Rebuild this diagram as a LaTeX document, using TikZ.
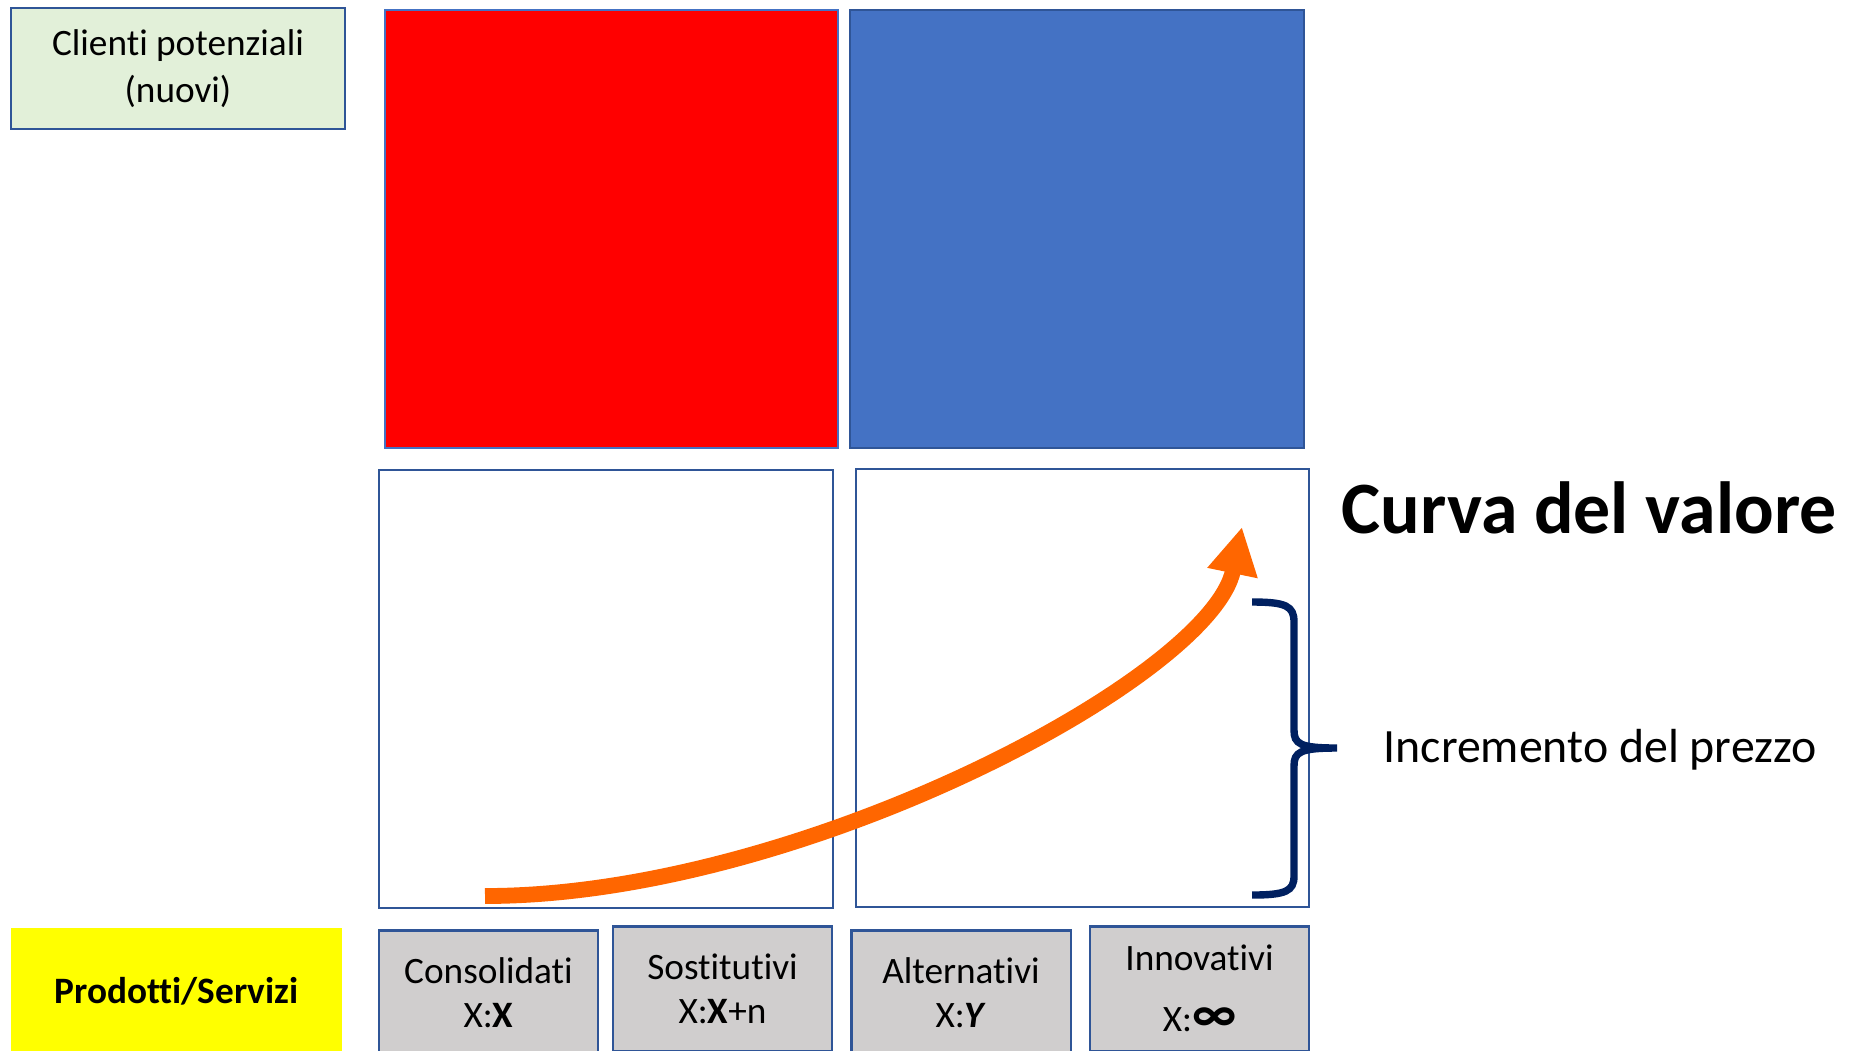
\documentclass[tikz,border=0pt]{standalone}
\usepackage{fontspec}
\setmainfont{Carlito}[Ligatures={NoCommon,NoRequired,NoContextual},Contextuals=NoAlternate]
\usetikzlibrary{arrows.meta}
\definecolor{bordo}{HTML}{2F5597}
\definecolor{bordochiaro}{HTML}{4472C4}
\definecolor{rosso}{HTML}{FF0000}
\definecolor{blu}{HTML}{4472C4}
\definecolor{verdino}{HTML}{E2F0D9}
\definecolor{grigio}{HTML}{D0CECE}
\definecolor{giallo}{HTML}{FFFF00}
\definecolor{arancio}{HTML}{FF6600}
\definecolor{notte}{HTML}{002060}
\newcommand{\testo}{\fontsize{10.6}{12.4}\selectfont}
\begin{document}
\begin{tikzpicture}[x=0.01cm,y=-0.01cm,
	box/.style={draw=bordo,line width=0.6pt,inner sep=0pt,align=center,font=\testo},
	quad/.style={box,minimum width=4.53cm,minimum height=4.37cm},
	cat/.style={box,fill=grigio,minimum width=2.19cm,minimum height=1.24cm}]
	\useasboundingbox (0,0) rectangle (1851,1050);
	\node(cli)[box,fill=verdino,minimum width=3.34cm,minimum height=1.21cm,font=\fontsize{10.6}{13.2}\selectfont] at (178,68.5) {Clienti potenziali\\(nuovi)};
	\node(q1)[quad,fill=rosso,draw=bordochiaro] at (611.5,229) {};
	\node(q2)[quad,fill=blu] at (1077,229) {};
	\node(q3)[quad] at (606,689) {};
	\node(q4)[quad] at (1082.5,688) {};
	\node(prod)[box,draw=none,fill=giallo,minimum width=3.31cm,minimum height=1.27cm,font=\testo\bfseries] at (176.5,991.5) {Prodotti/Servizi};
	\node(c1)[cat] at (488.5,992.5) {Consolidati\\X:\textbf{X}};
	\node(c2)[cat] at (722.5,988.5) {Sostitutivi\\X:\textbf{X}+n};
	\node(c3)[cat] at (961,992.5) {Alternativi\\X:\textbf{\textit{Y}}};
	\node(c4)[cat] at (1199.5,988.5) {Innovativi\\[5pt]X:{\fontsize{15}{15}\selectfont\bfseries ∞}};
	\node(titolo)[anchor=base,font=\fontsize{21}{25}\selectfont\bfseries] at (1589,533) {Curva del valore};
	\node(prezzo)[anchor=base,font=\fontsize{13.6}{16}\selectfont] at (1600,762) {Incremento del prezzo};
	% curva del valore
	\coordinate (inizio) at (485,896);
	\coordinate (punta) at (1242,527);
	\draw[arancio,line width=4.5pt,-{Triangle[length=4.7mm,width=4.8mm]}] (inizio) .. controls (800,896) and (1211,677) .. (punta);
	% parentesi graffa
	\draw[notte,line width=2.1pt] (1252,602) .. controls (1286,602) and (1294,606) .. (1294,622) -- (1294,730) .. controls (1294,744) and (1300,748) .. (1337,748)
		(1337,748) .. controls (1300,748) and (1294,752) .. (1294,766) -- (1294,876) .. controls (1294,891) and (1286,895) .. (1252,895);
\end{tikzpicture}
\end{document}
